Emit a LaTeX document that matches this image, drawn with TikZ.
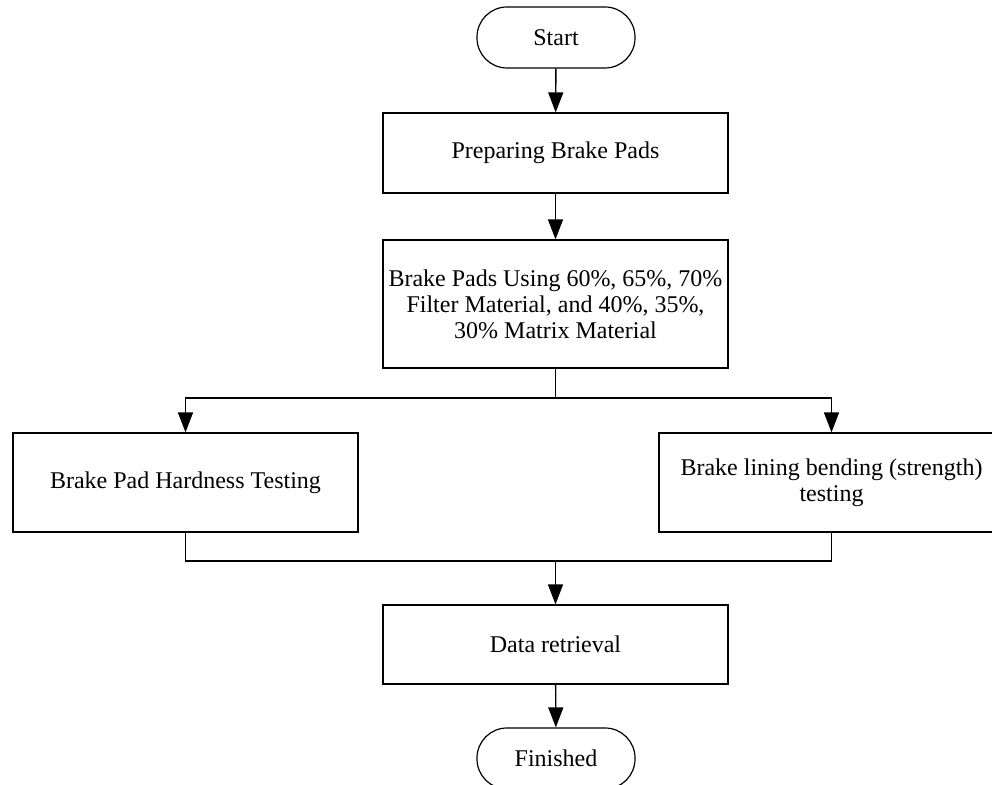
\documentclass[tikz,border=0pt]{standalone}
\usepackage{fontspec}
\setmainfont{Liberation Serif}
\usetikzlibrary{positioning}
\usetikzlibrary{arrows.meta}

\begin{document}
\begin{tikzpicture}[
    x=0.5pt, y=-0.5pt,
    every node/.style = {draw, align=center, line width=0.6pt, font=\fontsize{12}{13}\selectfont},
    process/.style = {shape=rectangle, minimum width=172.5pt, inner xsep=1pt},
    terminal/.style = {shape=rectangle, rounded corners=15pt, minimum width=79pt, minimum height=30.5pt},
    line/.style = {draw, line width=0.7pt},
    arrow/.style = {line, -{Triangle[length=10pt,width=7.5pt]}}
  ]
  \useasboundingbox (0,0) rectangle (992,785);

  \node[terminal] (start) at (556,37.5) {Start};
  \node[process, minimum height=40pt] (prep) at (555.5,153) {Preparing Brake Pads};
  \node[process, minimum height=64pt] (mix) at (555.5,304) {Brake Pads Using 60\%, 65\%, 70\%\\Filter Material, and 40\%, 35\%,\\30\% Matrix Material};
  \node[process, minimum height=49.5pt] (hard) at (185.5,482.5) {Brake Pad Hardness Testing};
  \node[process, minimum height=49.5pt] (bend) at (831.5,482.5) {Brake lining bending (strength)\\testing};
  \node[process, minimum height=39.5pt] (data) at (555.5,644.5) {Data retrieval};
  \node[terminal] (finish) at (556,758.5) {Finished};

  \coordinate (split) at (555.5,398);
  \coordinate (merge) at (555.5,561);

  \draw[arrow] (start) -- (prep);
  \draw[arrow] (prep) -- (mix);
  \draw[line] (mix) -- (split);
  \draw[arrow] (split) -| (hard);
  \draw[arrow] (split) -| (bend);
  \draw[line] (hard) |- (merge);
  \draw[line] (bend) |- (merge);
  \draw[arrow] (merge) -- (data);
  \draw[arrow] (data) -- (finish);
\end{tikzpicture}
\end{document}
